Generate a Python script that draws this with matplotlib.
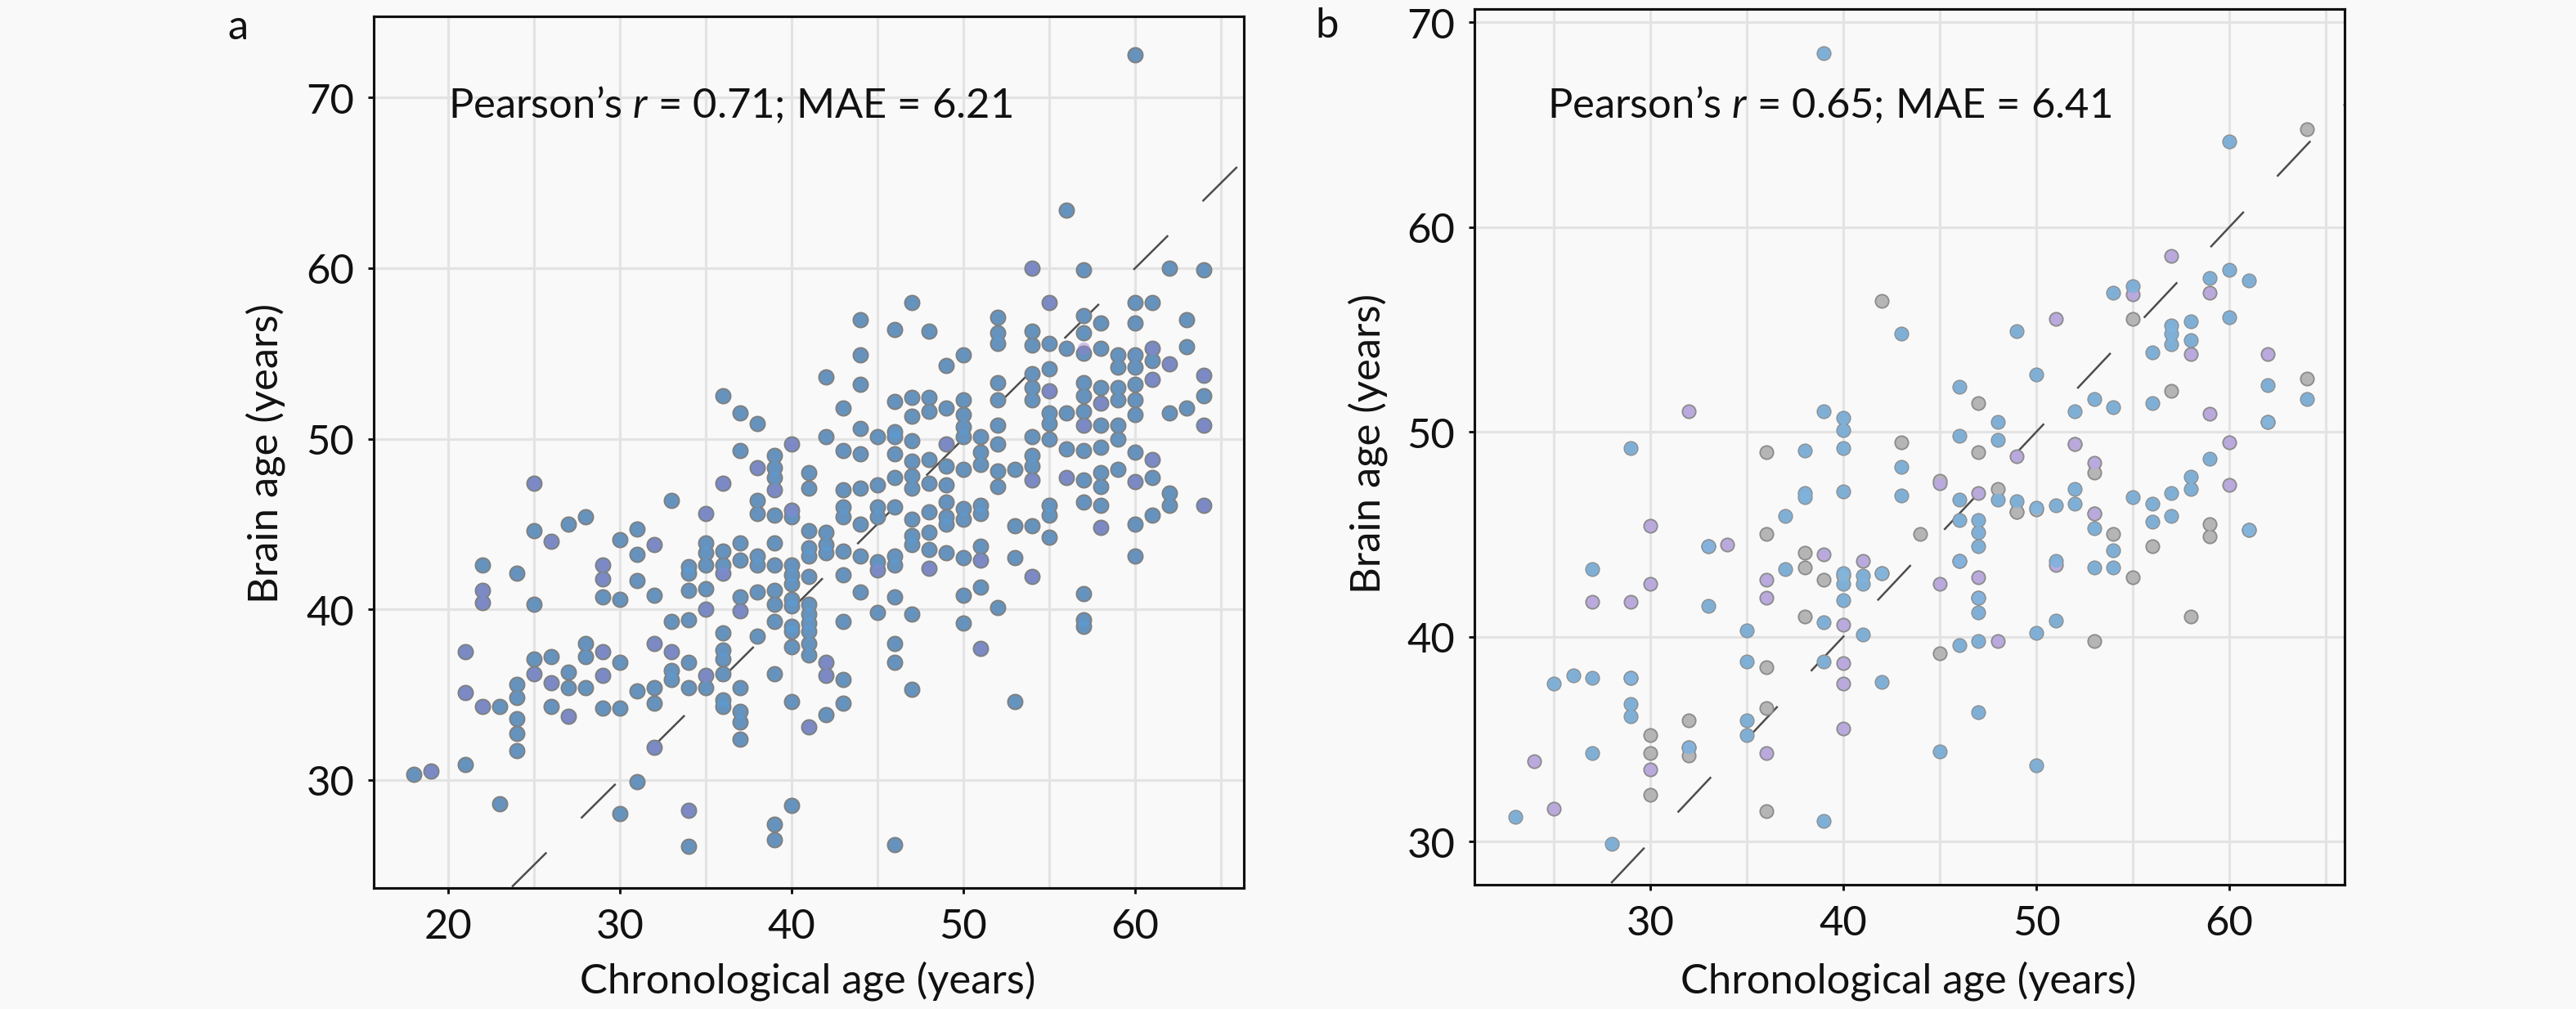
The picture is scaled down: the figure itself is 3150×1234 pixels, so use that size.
import numpy as np
import matplotlib
matplotlib.use("Agg")
import matplotlib.pyplot as plt

plt.rcParams['font.family'] = ['Lato', 'DejaVu Sans']
plt.rcParams['mathtext.fontset'] = 'custom'
plt.rcParams['mathtext.it'] = 'Lato:italic'
plt.rcParams['mathtext.rm'] = 'Lato'
plt.rcParams['lines.scale_dashes'] = False

# panel a, all points
a_age = [18, 19,
         21, 21, 21,
         22, 22, 22, 22,
         23, 23,
         24, 24, 24, 24, 24, 24,
         25, 25, 25, 25, 25,
         26, 26, 26, 26,
         27, 27, 27, 27,
         28, 28, 28, 28,
         29, 29, 29, 29, 29, 29,
         30, 30, 30, 30, 30,
         31, 31, 31, 31, 31,
         32, 32, 32, 32, 32, 32,
         33, 33, 33, 33, 33,
         34, 34, 34, 34, 34, 34, 34, 34,
         35, 35, 35, 35, 35, 35, 35, 35,
         36, 36, 36, 36, 36, 36, 36, 36, 36, 36, 36,
         37, 37, 37, 37, 37, 37, 37, 37, 37, 37,
         38, 38, 38, 38, 38, 38, 38, 38,
         39, 39, 39, 39, 39, 39, 39, 39, 39, 39, 39, 39, 39,
         40, 40, 40, 40, 40, 40, 40, 40, 40, 40, 40, 40, 40,
         41, 41, 41, 41, 41, 41, 41, 41, 41, 41, 41, 41, 41,
         42, 42, 42, 42, 42, 42, 42, 42,
         43, 43, 43, 43, 43, 43, 43, 43, 43, 43,
         44, 44, 44, 44, 44, 44, 44, 44, 44,
         45, 45, 45, 45, 45, 45, 45,
         46, 46, 46, 46, 46, 46, 46, 46, 46, 46, 46, 46, 46,
         47, 47, 47, 47, 47, 47, 47, 47, 47, 47, 47, 47,
         48, 48, 48, 48, 48, 48, 48, 48, 48,
         49, 49, 49, 49, 49, 49, 49, 49, 49,
         50, 50, 50, 50, 50, 50, 50, 50, 50, 50, 50,
         51, 51, 51, 51, 51, 51, 51, 51, 51,
         52, 52, 52, 52, 52, 52, 52, 52, 52, 52,
         53, 53, 53, 53,
         54, 54, 54, 54, 54, 54, 54, 54, 54, 54, 54, 54,
         55, 55, 55, 55, 55, 55, 55, 55, 55, 55,
         56, 56, 56, 56, 56,
         57, 57, 57, 57, 57, 57, 57, 57, 57, 57, 57, 57, 57, 57,
         58, 58, 58, 58, 58, 58, 58, 58, 58, 58,
         59, 59, 59, 59, 59, 59, 59,
         60, 60, 60, 60, 60, 60, 60, 60, 60, 60, 60, 60,
         61, 61, 61, 61, 61, 61, 61,
         62, 62, 62, 62, 62,
         63, 63, 63,
         64, 64, 64, 64, 64]
a_brain = [30.3, 30.5,
           37.5, 35.1, 30.9,
           42.6, 41.1, 40.4, 34.3,
           34.3, 28.6,
           42.1, 35.6, 34.8, 33.6, 32.7, 31.7,
           47.4, 44.6, 40.3, 37.1, 36.2,
           44.0, 37.2, 35.7, 34.3,
           45.0, 36.3, 35.4, 33.7,
           45.4, 38.0, 37.2, 35.4,
           42.6, 41.8, 40.7, 37.5, 36.1, 34.2,
           44.1, 40.6, 36.9, 34.2, 28.0,
           44.7, 43.2, 41.7, 35.2, 29.9,
           43.8, 40.8, 38.0, 35.4, 34.5, 31.9,
           46.4, 39.3, 37.5, 36.4, 35.9,
           42.5, 42.1, 41.1, 39.4, 36.9, 35.4, 28.2, 26.1,
           45.6, 43.9, 43.3, 42.6, 41.2, 40.0, 36.1, 35.4,
           52.5, 47.4, 43.4, 42.6, 42.1, 38.6, 37.6, 37.1, 36.2, 34.7, 34.3,
           51.5, 49.3, 43.9, 42.9, 40.7, 39.9, 35.4, 34.0, 33.4, 32.4,
           50.9, 48.3, 46.4, 45.6, 43.1, 42.6, 41.0, 38.4,
           49.0, 48.3, 47.7, 47.0, 45.5, 43.9, 42.6, 41.1, 40.3, 39.3, 36.2, 27.4, 26.5,
           49.7, 45.8, 45.4, 42.6, 42.0, 41.5, 40.6, 40.2, 39.0, 38.7, 37.8, 34.6, 28.5,
           48.0, 47.1, 44.6, 43.6, 43.1, 41.9, 40.3, 39.7, 39.2, 38.7, 38.0, 37.3, 33.1,
           53.6, 50.1, 44.5, 43.8, 43.3, 36.9, 36.1, 33.8,
           51.8, 49.3, 47.0, 46.0, 45.4, 43.4, 42.0, 39.3, 35.9, 34.5,
           57.0, 54.9, 53.2, 50.6, 49.1, 47.1, 45.0, 43.1, 41.0,
           50.1, 47.3, 46.0, 45.4, 42.8, 42.3, 39.8,
           56.4, 52.2, 50.4, 50.1, 49.1, 47.7, 46.0, 43.1, 42.6, 40.7, 38.0, 36.9, 26.2,
           58.0, 52.4, 51.3, 49.9, 48.7, 47.8, 47.1, 45.3, 44.3, 43.8, 39.7, 35.3,
           56.3, 52.4, 51.6, 48.8, 47.4, 45.7, 44.5, 43.5, 42.4,
           54.3, 51.8, 49.7, 48.4, 47.3, 46.3, 45.4, 45.0, 43.3,
           54.9, 52.3, 51.4, 50.7, 50.1, 48.2, 45.9, 45.3, 43.0, 40.8, 39.2,
           50.1, 49.2, 48.5, 46.1, 45.6, 43.7, 42.9, 41.3, 37.7,
           57.1, 56.2, 55.6, 53.3, 52.3, 50.8, 49.7, 48.1, 47.2, 40.1,
           48.2, 44.9, 43.0, 34.6,
           60.0, 56.3, 55.5, 53.8, 53.0, 52.3, 50.1, 49.0, 48.4, 47.6, 44.9, 41.9,
           58.0, 55.6, 54.1, 52.8, 51.5, 50.9, 50.0, 46.1, 45.5, 44.2,
           63.4, 55.3, 51.5, 49.4, 47.7,
           59.9, 57.2, 56.2, 55.0, 53.3, 52.5, 51.6, 50.8, 49.3, 47.6, 46.3, 40.9, 39.4, 39.0,
           56.8, 55.3, 53.0, 52.1, 50.8, 49.5, 48.0, 47.2, 46.1, 44.8,
           54.9, 54.2, 53.0, 52.3, 50.8, 50.0, 48.2,
           72.5, 58.0, 56.8, 54.9, 54.2, 53.2, 52.3, 51.4, 49.2, 47.5, 45.0, 43.1,
           58.0, 55.3, 54.6, 53.5, 48.8, 47.7, 45.5,
           60.0, 54.4, 51.5, 46.8, 46.1,
           57.0, 55.4, 51.8,
           59.9, 53.7, 52.5, 50.8, 46.1]

# points of panel a with a violet tint
a_violet_age = [19, 21, 21, 22, 22, 22, 25, 25, 26, 26, 27, 29, 29, 29, 29, 32, 32, 32, 33, 34,
                35, 35, 35, 36, 36, 37, 38, 39, 40, 40, 41, 42, 42, 48, 49, 45, 51, 51, 54,
                54, 54, 55, 55, 56, 57, 57, 58, 58, 60, 61, 61, 61, 62, 64, 64, 64]
a_violet_brain = [30.5, 37.5, 35.1, 41.1, 40.4, 34.3, 47.4, 36.2, 44.0, 35.7, 33.7, 42.6, 41.8,
                  37.5, 36.1, 43.8, 38.0, 31.9, 37.5, 28.2, 45.6, 40.0, 36.1, 47.4, 42.1, 39.9,
                  48.3, 47.0, 49.7, 45.8, 33.1, 36.9, 36.1, 42.4, 49.7, 42.3, 42.9, 37.7, 60.0,
                  47.6, 41.9, 58.0, 52.8, 47.7, 55.3, 50.8, 52.1, 44.8, 47.5, 55.3, 53.5, 48.8,
                  54.4, 53.7, 50.8, 46.1]

# panel b: points with a blue, grey or violet fill
b_blue_age = [23, 25, 26, 27, 27, 27, 28, 29, 29, 29, 29, 32, 33, 33, 35, 35, 35, 35, 37, 37,
              38, 38, 38, 39, 39, 39, 39, 39, 40, 40, 40, 40, 40, 40, 40, 41, 41, 41, 42, 42,
              43, 43, 43, 45, 46, 46, 46, 46, 46, 46, 47, 47, 47, 47, 47, 47, 47, 48, 48, 48,
              49, 49, 50, 50, 50, 50, 51, 51, 51, 52, 52, 52, 53, 53, 53, 54, 54, 54, 54, 55, 55,
              56, 56, 56, 56, 57, 57, 57, 57, 57, 58, 58, 58, 58, 59, 59, 60, 60, 60, 61, 61,
              62, 62, 64]
b_blue_brain = [31.2, 37.7, 38.1, 43.3, 38.0, 34.3, 29.9, 49.2, 38.0, 36.7, 36.1, 34.6, 44.4,
                41.5, 40.3, 38.8, 35.9, 35.2, 45.9, 43.3, 49.1, 47.0, 46.8, 51.0, 40.7, 38.8,
                31.0, 68.5, 50.7, 50.1, 49.2, 47.1, 43.1, 42.6, 41.8, 43.0, 42.6, 40.1, 43.1, 37.8,
                54.8, 48.3, 46.9, 34.4, 52.2, 49.8, 46.7, 45.7, 43.7, 39.6, 45.7, 45.1, 44.4, 41.9,
                41.2, 39.8, 36.3, 50.5, 49.6, 46.7, 54.9, 46.6, 52.8, 46.3, 40.2, 33.7, 46.4, 43.7,
                40.8, 51.0, 47.2, 46.5, 51.6, 45.3, 43.4, 56.8, 51.2, 44.2, 43.4, 57.1, 46.8, 53.9,
                51.4, 46.5, 45.6, 55.2, 54.8, 54.3, 47.0, 45.9, 55.4, 54.5, 47.8, 47.2, 57.5, 48.7,
                64.2, 57.9, 55.6, 57.4, 45.2, 52.3, 50.5, 51.6]
b_grey_age = [30, 30, 30, 32, 32, 36, 36, 36, 36, 36, 38, 38, 38, 39, 40, 42, 42, 43, 44, 45,
              45, 47, 47, 48, 49, 49, 50, 52, 53, 53, 53, 54, 55, 55, 56, 57, 58, 59, 59, 61,
              62, 64, 64]
b_grey_brain = [35.2, 34.3, 32.3, 35.9, 34.2, 49.0, 45.0, 38.5, 36.5, 31.5, 44.1, 43.4, 41.0,
                42.8, 43.0, 56.4, 43.1, 49.5, 45.0, 47.6, 39.2, 51.4, 49.0, 47.2, 46.1, 46.1,
                46.2, 49.4, 48.0, 46.0, 39.8, 45.0, 42.9, 55.5, 44.4, 52.0, 41.0, 45.5, 44.9, 45.2,
                50.5, 64.8, 52.6]
b_violet_age = [24, 25, 27, 29, 29, 30, 30, 30, 32, 32, 33, 34, 36, 36, 36, 39, 40, 40, 40, 40,
                41, 45, 45, 46, 47, 47, 47, 48, 49, 51, 51, 52, 53, 53, 55, 57, 58, 59, 59, 60,
                60, 62]
b_violet_brain = [33.9, 31.6, 41.7, 41.7, 38.0, 45.4, 42.6, 33.5, 51.0, 34.6, 44.4, 44.5, 42.8,
                  41.9, 34.3, 44.0, 40.6, 38.7, 37.7, 35.5, 43.7, 42.6, 47.5, 43.7, 42.9, 41.9,
                  47.0, 39.8, 48.8, 55.5, 43.5, 49.4, 48.5, 46.0, 56.7, 58.6, 53.8, 56.8, 50.9,
                  49.5, 47.4, 53.8]

x_ticks_a = [20, 30, 40, 50, 60]
y_ticks_a = [30, 40, 50, 60, 70]
x_ticks_b = [30, 40, 50, 60]
y_ticks_b = [30, 40, 50, 60, 70]

W, H = 3150, 1235
BG = '#f9f9f9'
GRID = '#e3e3e3'
FS = 12.2


def axes_at(left, top, right, bottom):
    return fig.add_axes([left / W, 1 - bottom / H, (right - left) / W, (bottom - top) / H])


def style(ax, xt, yt, xlim, ylim):
    ax.set_facecolor(BG)
    ax.set_xlim(*xlim)
    ax.set_ylim(*ylim)
    ax.set_xticks(xt)
    ax.set_yticks(yt)
    ax.set_xticks(np.arange(25, 70, 10), minor=True)
    ax.tick_params(axis='x', which='minor', length=0)
    ax.tick_params(which='major', labelsize=FS, length=1.7, width=0.7, pad=4,
                   colors='#111111', direction='out')
    ax.grid(True, which='both', axis='x', color=GRID, lw=0.75)
    ax.grid(True, which='major', axis='y', color=GRID, lw=0.75)
    ax.set_axisbelow(True)
    for s in ax.spines.values():
        s.set_linewidth(0.75)
        s.set_color('#111111')


fig = plt.figure(figsize=(W / 300, H / 300), dpi=300, facecolor=BG)

# panel a
ax1 = axes_at(457, 21, 1521, 1087)
style(ax1, x_ticks_a, y_ticks_a, (15.67, 66.33), (23.65, 74.77))
ax1.plot([23.72, 66.5], [23.72, 66.5], color='#4d4d4d', lw=0.6, ls=(0, (14.28, 14.28)), zorder=1)
ax1.scatter(a_age, a_brain, s=23, color='#808080', lw=0, zorder=2)
ax1.scatter(a_age, a_brain, s=15, color='#5b9bd5', alpha=0.72, lw=0, zorder=3)
ax1.scatter(a_violet_age, a_violet_brain, s=14, color='#9a7fd0', alpha=0.45, lw=0, zorder=4)

# panel b
ax2 = axes_at(1803, 12, 2867, 1083)
style(ax2, x_ticks_b, y_ticks_b, (20.89, 65.97), (27.89, 70.65))
ax2.plot([27.97, 66.1], [27.97, 66.1], color='#4d4d4d', lw=0.6, ls=(0, (14.25, 14.25)), zorder=1)
all_age = b_blue_age + b_grey_age + b_violet_age
all_brain = b_blue_brain + b_grey_brain + b_violet_brain
ax2.scatter(all_age, all_brain, s=19, color='#8c8c8c', lw=0, zorder=2)
ax2.scatter(b_grey_age, b_grey_brain, s=12, color='#b5b5b5', lw=0, zorder=3)
ax2.scatter(b_violet_age, b_violet_brain, s=12, color='#b9a9dc', lw=0, zorder=3)
ax2.scatter(b_blue_age, b_blue_brain, s=14, color='#7fb4de', alpha=0.9, lw=0, zorder=4)


# texts, placed in picture pixels
def put(x, y, s, **kw):
    fig.text(x / W, 1 - y / H, s, ha='center', va='center', color='#111111', fontsize=FS, **kw)


put(291, 34, 'a')
put(1623, 32, 'b')
put(893, 128, 'Pearson’s $\\mathit{r}$ = 0.71; MAE = 6.21')
put(2237, 128, 'Pearson’s $\\mathit{r}$ = 0.65; MAE = 6.41')
put(988, 1200, 'Chronological age (years)')
put(2334, 1200, 'Chronological age (years)')
put(325, 555, 'Brain age (years)', rotation=90)
put(1673, 543, 'Brain age (years)', rotation=90)

fig.savefig('out.png', dpi=300, facecolor=BG)
